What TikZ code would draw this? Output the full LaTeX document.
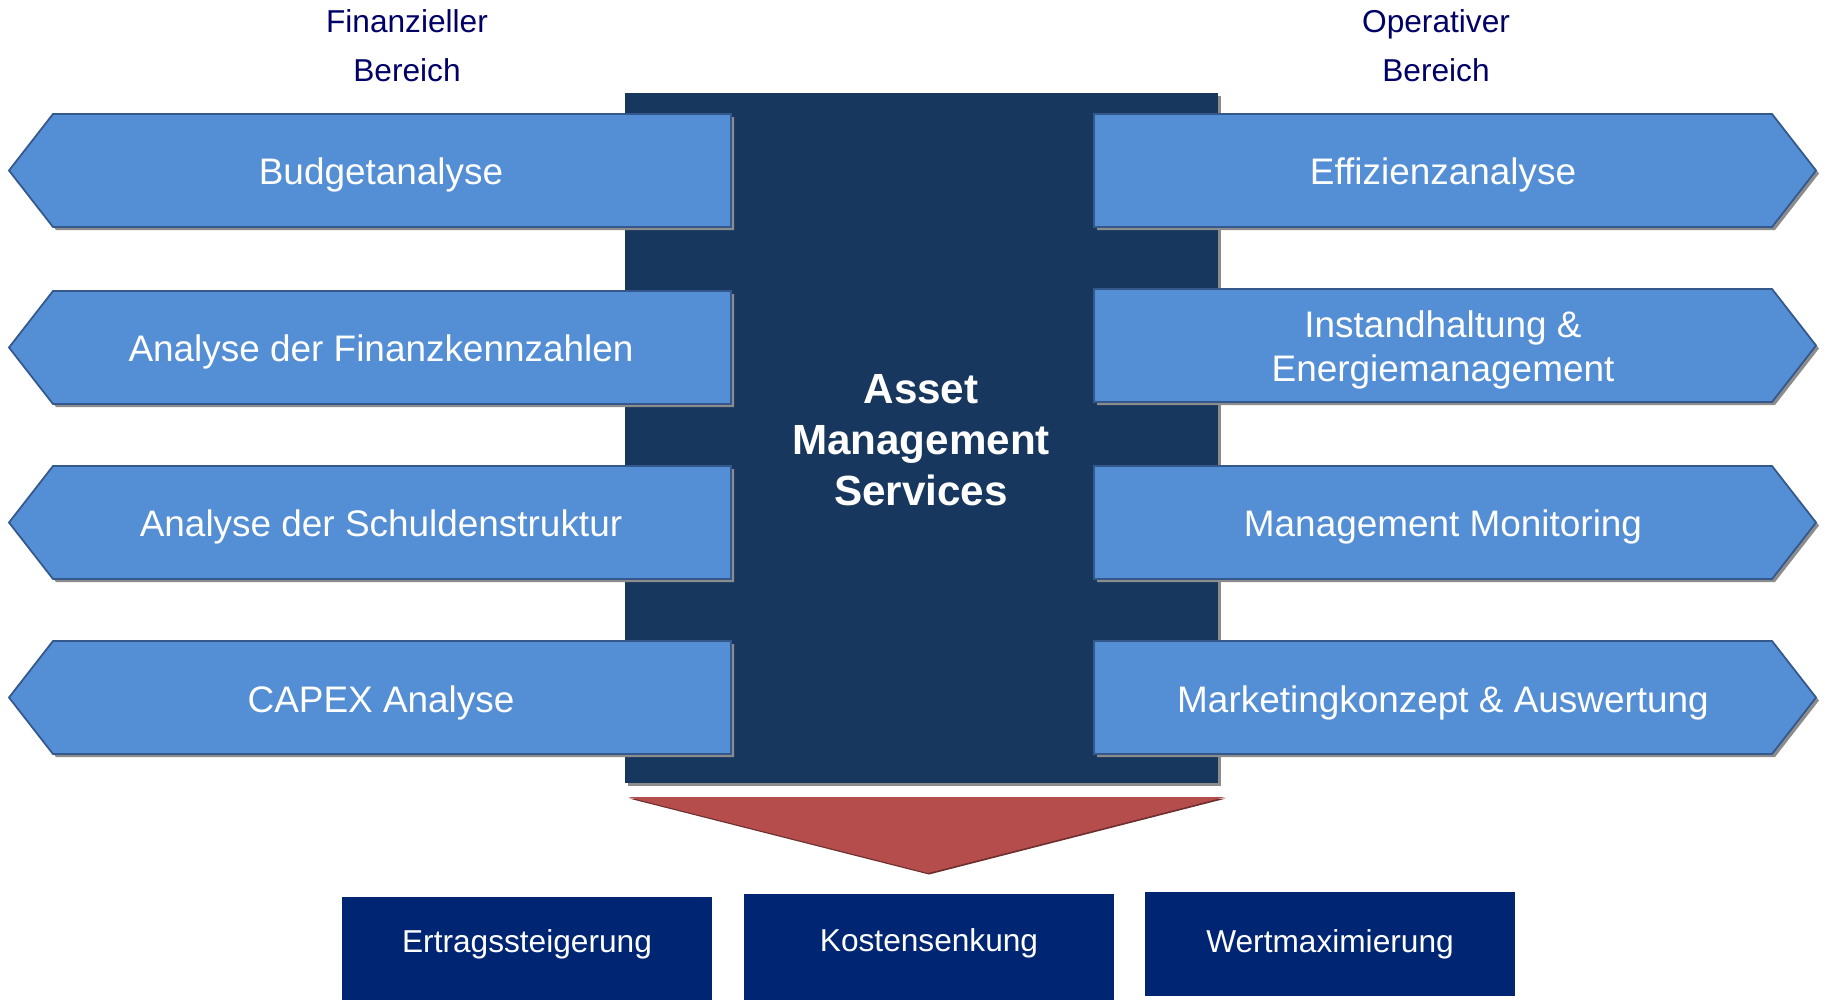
\documentclass[tikz,border=0pt]{standalone}
\usepackage{fontspec}
\setmainfont{Liberation Sans}
\usepackage{tikz}
\usetikzlibrary{shadows}

\definecolor{hellblau}{RGB}{84,142,213}
\definecolor{randblau}{RGB}{52,88,140}
\definecolor{dunkelblau}{RGB}{23,55,94}
\definecolor{marineblau}{RGB}{0,38,115}
\definecolor{keilrot}{RGB}{181,77,77}
\definecolor{titelblau}{RGB}{0,0,102}

\tikzset{
  schatten/.style={drop shadow={shadow xshift=0.3mm, shadow yshift=-0.3mm, fill=gray!90, opacity=1}},
  pfeil/.style={fill=hellblau, draw=randblau, line width=0.5pt, schatten},
  pfeiltext/.style={text=white, align=center, font=\fontsize{10.5}{12.5}\selectfont},
  ziel/.style={fill=marineblau, text=white, minimum width=3.7cm, minimum height=1.04cm,
    inner sep=0pt, font=\fontsize{9}{11}\selectfont},
  bereich/.style={text=titelblau, align=center, font=\fontsize{9}{14}\selectfont}
}

\begin{document}
\begin{tikzpicture}[x=0.01cm, y=-0.01cm]
    \useasboundingbox (0,0) rectangle (1825,999);

    % Ueberschriften
    \node[bereich] (finanz) at (407,46) {Finanzieller\\Bereich};
    \node[bereich] (operativ) at (1436,46) {Operativer\\Bereich};

    % Mittelblock
    \fill[dunkelblau, schatten] (625,93) rectangle (1218,783);
    \node[text=white, align=center, font=\bfseries\fontsize{12}{14.5}\selectfont] (ams) at (921,440)
        {Asset\\Management\\Services};

    % Finanzieller Bereich
    \draw[pfeil] (9,170.5) -- (53,114) -- (731,114) -- (731,227) -- (53,227) -- cycle;
    \node[pfeiltext] (budget) at (381,175) {Budgetanalyse};
    \draw[pfeil] (9,347.5) -- (53,291) -- (731,291) -- (731,404) -- (53,404) -- cycle;
    \node[pfeiltext] (kennzahlen) at (381,352) {Analyse der Finanzkennzahlen};
    \draw[pfeil] (9,522.5) -- (53,466) -- (731,466) -- (731,579) -- (53,579) -- cycle;
    \node[pfeiltext] (schulden) at (381,527) {Analyse der Schuldenstruktur};
    \draw[pfeil] (9,697.5) -- (53,641) -- (731,641) -- (731,754) -- (53,754) -- cycle;
    \node[pfeiltext] (capex) at (381,702.5) {CAPEX Analyse};

    % Operativer Bereich
    \draw[pfeil] (1816,170.5) -- (1772,114) -- (1094,114) -- (1094,227) -- (1772,227) -- cycle;
    \node[pfeiltext] (effizienz) at (1443,175) {Effizienzanalyse};
    \draw[pfeil] (1816,345.5) -- (1772,289) -- (1094,289) -- (1094,402) -- (1772,402) -- cycle;
    \node[pfeiltext] (instand) at (1443,350) {Instandhaltung \&\\Energiemanagement};
    \draw[pfeil] (1816,522.5) -- (1772,466) -- (1094,466) -- (1094,579) -- (1772,579) -- cycle;
    \node[pfeiltext] (monitoring) at (1443,527) {Management Monitoring};
    \draw[pfeil] (1816,697.5) -- (1772,641) -- (1094,641) -- (1094,754) -- (1772,754) -- cycle;
    \node[pfeiltext] (marketing) at (1443,702.5) {Marketingkonzept \& Auswertung};

    % Keil
    \fill[keilrot, drop shadow={shadow xshift=0.1mm, shadow yshift=-0.15mm, fill=keilrot!60!black, opacity=1}]
        (628,797) -- (1225,797) -- (928,873) -- cycle;

    % Ziele
    \node[ziel, minimum height=1.1cm, text depth=2.15mm] (ertrag) at (527,952) {Ertragssteigerung};
    \node[ziel, minimum height=1.1cm, text depth=1.75mm] (kosten) at (929,949) {Kostensenkung};
    \node[ziel] (wert) at (1330,944) {Wertmaximierung};
\end{tikzpicture}
\end{document}
